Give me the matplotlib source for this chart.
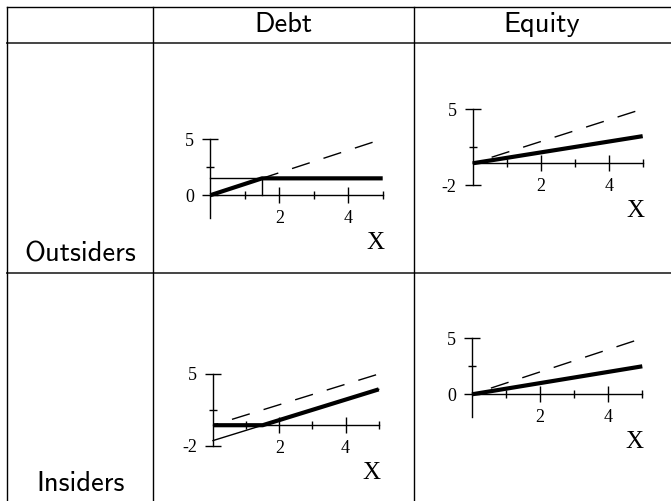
import matplotlib
matplotlib.use("Agg")
import matplotlib.pyplot as plt
from matplotlib.lines import Line2D

W, H = 671, 501

# table text
col_names = ["Debt", "Equity"]
row_names = ["Outsiders", "Insiders"]

# payoff curves, values at x = 0, 1.5, 5
x_pts = [0, 1.5, 5]
benchmark = [0, 1.5, 5]          # dashed 45 degree line
out_debt = [0, 1.5, 1.5]
out_equity = [0, 0.75, 2.5]
ins_debt = [0, 0, 3.5]
ins_debt_guide = [-1.5, 0, 3.5]
ins_equity = [0, 0.75, 2.5]
face = 1.5                       # kink point / face value

x_major = [2, 4]
x_minor = [1, 3, 5]
ylab_a = [0, 5]
yminor_a = [2.5]
ylab_b = [-2, 5]
yminor_b = [1.5]

fig = plt.figure(figsize=(W / 100, H / 100), dpi=100)


def fx(px):
    return px / W


def fy(py):
    return 1 - py / H


def hline(y, x0, x1, lw=1.0, color="black"):
    fig.add_artist(Line2D([fx(x0), fx(x1)], [fy(y), fy(y)],
                          transform=fig.transFigure, lw=lw, color=color))


def vline(x, y0, y1, lw=1.0, color="black"):
    fig.add_artist(Line2D([fx(x), fx(x)], [fy(y0), fy(y1)],
                          transform=fig.transFigure, lw=lw, color=color))


# table grid
hline(6.7, 7, 671)
hline(43.3, 7, 671, lw=1.4, color="#444444")
hline(273, 7, 671, lw=1.4, color="#444444")
for xv in [7, 153.3, 414.3]:
    vline(xv, 6.7, 501)

sans = "cmss10"
fs = 20.5
fig.text(fx(283.7), fy(31.7), col_names[0], family=sans, size=fs,
         ha="center", va="baseline")
fig.text(fx(542), fy(31.7), col_names[1], family=sans, size=fs,
         ha="center", va="baseline")
fig.text(fx(80), fy(261.7), row_names[0], family=sans, size=fs,
         ha="center", va="baseline")
fig.text(fx(80.5), fy(491), row_names[1], family=sans, size=fs,
         ha="center", va="baseline")


def panel(box, ylabels, yminor):
    l, t, r, b = box
    ax = fig.add_axes([fx(l), fy(b), (r - l) / W, (b - t) / H])
    ax.set_xlim(0, 5)
    ax.set_ylim(-2, 5)
    ax.patch.set_visible(False)
    for s in ["top", "right"]:
        ax.spines[s].set_visible(False)
    ax.spines["bottom"].set_position(("data", 0))
    ax.spines["bottom"].set_bounds(0, 5)
    ax.spines["left"].set_bounds(-2, 5)
    for s in ["bottom", "left"]:
        ax.spines[s].set_linewidth(1.0)
    ax.set_xticks(x_major, [str(v) for v in x_major])
    ax.set_xticks(x_minor, minor=True)
    ax.set_yticks(ylabels, [str(v) for v in ylabels])
    ax.set_yticks(yminor, minor=True)
    ax.tick_params(which="major", direction="inout", length=11, width=1.0)
    ax.tick_params(which="minor", direction="inout", length=6, width=1.0)
    ax.tick_params(axis="x", which="major", pad=5)
    ax.tick_params(axis="y", which="major", pad=6)
    for lab in ax.get_xticklabels() + ax.get_yticklabels():
        lab.set_family("Liberation Serif")
        lab.set_size(13)
    ax.annotate("X", xy=(5, 0), xycoords="data", xytext=(-5.5, -38.8),
                textcoords="offset points", ha="center", va="baseline",
                family="Liberation Serif", size=18, annotation_clip=False)
    ax.plot(x_pts, benchmark, color="black", lw=1.0,
            linestyle=(9.5, (13.4, 10.4)), clip_on=False, zorder=2)
    return ax


kw = dict(color="black", clip_on=False)

ax1 = panel((210.3, 139, 382.7, 217.7), ylab_a, yminor_a)
ax1.plot([0, face], [face, face], lw=1.0, zorder=3, **kw)
ax1.plot([face, face], [0, face], lw=1.0, zorder=3, **kw)
ax1.plot(x_pts, out_debt, lw=3.0, zorder=4, solid_capstyle="butt", **kw)

ax2 = panel((472.7, 109, 642.7, 185), ylab_b, yminor_b)
ax2.plot(x_pts, out_equity, lw=3.0, zorder=4, solid_capstyle="butt", **kw)

ax3 = panel((213, 374, 378.7, 445.7), ylab_b, yminor_b)
ax3.plot(x_pts, ins_debt_guide, lw=1.0, zorder=3, **kw)
ax3.plot(x_pts, ins_debt, lw=3.0, zorder=4, solid_capstyle="butt", **kw)

ax4 = panel((472, 338.3, 642.3, 416.7), ylab_a, yminor_a)
ax4.plot(x_pts, ins_equity, lw=3.0, zorder=4, solid_capstyle="butt", **kw)

fig.savefig("out.png", dpi=100)
